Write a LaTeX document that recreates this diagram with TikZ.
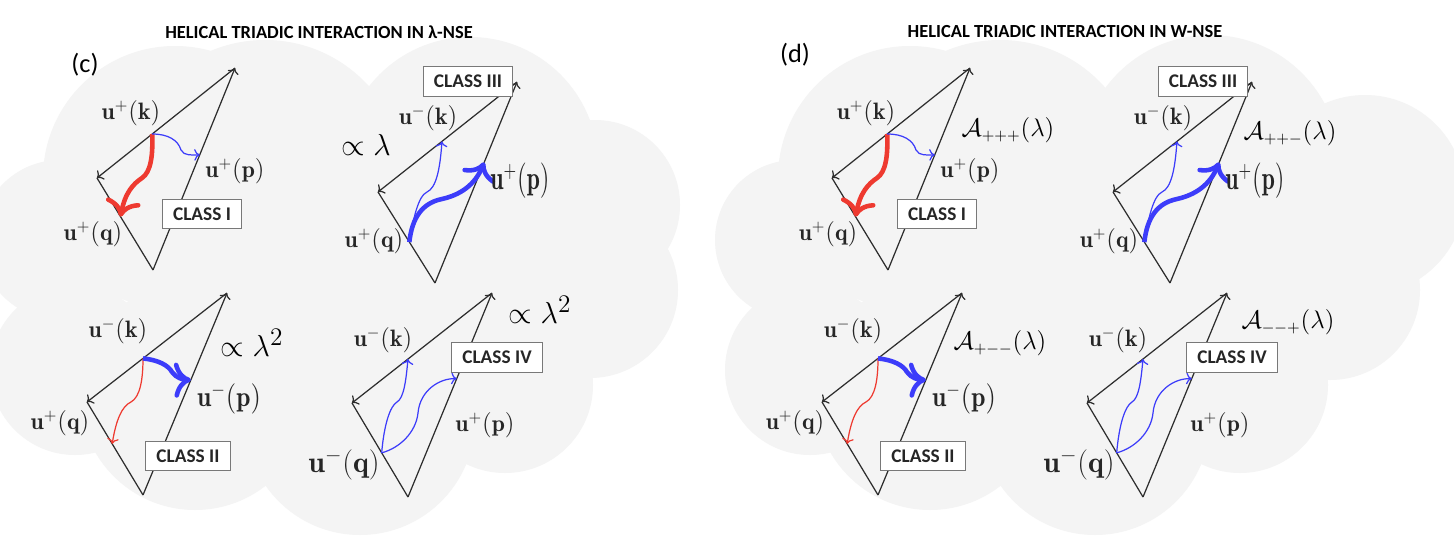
\documentclass[tikz,border=0pt]{standalone}
\usepackage{amsmath,amssymb}
\usepackage{fontspec}
\usepackage{tikz}
\usetikzlibrary{arrows.meta,calc}
\newfontfamily\calibrilike{Carlito}
\definecolor{CloudGray}{RGB}{244,244,244}
\definecolor{EdgeGray}{RGB}{45,45,45}
\definecolor{BoxGray}{RGB}{120,120,120}
\definecolor{HelBlue}{RGB}{60,60,250}
\definecolor{HelRed}{RGB}{238,58,48}

\begin{document}
\begin{tikzpicture}[x=0.2mm,y=-0.2mm,>=To,
  edge/.style={draw=EdgeGray,line width=0.7pt},
  classbox/.style={draw=BoxGray,fill=white,line width=0.6pt,text=black!85,
    font=\calibrilike\bfseries\fontsize{11}{13}\selectfont,inner xsep=6pt,minimum height=17pt},
  lab/.style={text=black!85,font=\fontsize{13.5}{16}\selectfont,inner sep=0pt},
  prop/.style={text=black,font=\fontsize{17.5}{20}\selectfont,inner sep=0pt},
  amp/.style={text=black,font=\fontsize{13.5}{16}\selectfont,inner sep=0pt},
  title/.style={font=\calibrilike\bfseries\fontsize{10.5}{12}\selectfont,inner sep=0pt},
  tag/.style={font=\calibrilike\fontsize{15}{17}\selectfont,inner sep=0pt},
  thinb/.style={->,HelBlue,line width=0.7pt},
  thickb/.style={-{To[scale=1.3]},HelBlue,line width=2.6pt},
  thinr/.style={->,HelRed,line width=0.7pt},
  thickr/.style={-{To[scale=1.3]},HelRed,line width=2.6pt}]
  \useasboundingbox (0,0) rectangle (1454,552);
  \fill[white] (0,0) rectangle (1454,552);

  % cloud backgrounds
  \foreach \cx/\cy/\r in {175/178/132,265/180/140,470/165/128,595/205/85,590/290/88,
      505/385/88,360/420/115,195/395/115,75/370/85,60/240/80,350/300/150,430/280/140,
      910/178/132,1000/180/140,1210/165/130,1365/195/100,1330/290/90,
      1240/385/88,1095/420/115,930/395/115,810/370/85,795/240/80,1085/300/150,1165/280/140}
    \fill[CloudGray] (\cx,\cy) circle (\r);

  \node[title] (titC) at (319,32) {HELICAL TRIADIC INTERACTION IN λ-NSE};
  \node[title] (titD) at (1065,32) {HELICAL TRIADIC INTERACTION IN W-NSE};
  \node[tag] (tagC) at (85,65) {(c)};
  \node[tag] (tagD) at (795,55) {(d)};

  \foreach \dx/\pn in {0/c,735/d}{
  \begin{scope}[shift={(\dx,0)}]
    % class I
    \coordinate (TI\pn) at (235,68);
    \coordinate (LI\pn) at (97,178);
    \coordinate (BI\pn) at (153,270);
    \draw[edge,->] (BI\pn) -- (TI\pn);
    \draw[edge,->] (TI\pn) -- (LI\pn);
    \draw[edge] (LI\pn) -- (BI\pn);
    \coordinate (kI\pn) at ($(TI\pn)!0.6!(LI\pn)$);
    \coordinate (qI\pn) at ($(LI\pn)!0.42!(BI\pn)$);
    \coordinate (pI\pn) at ($(BI\pn)!0.57!(TI\pn)$);
    \draw[thickr] (kI\pn) .. controls (153,155) and (151,172) .. (142,178)
      .. controls (133,184) and (125,193) .. (qI\pn);
    \draw[thinb] (kI\pn) .. controls (168,134) and (178,140) .. (181,150)
      .. controls (184,156) and (192,155) .. (pI\pn);
    \node[classbox] (boxI\pn) at (202,214) {CLASS I};
    \node[lab] (ukI\pn) at (131,113) {$\mathbf{u}^+(\mathbf{k})$};
    \node[lab] (upI\pn) at (235,171) {$\mathbf{u}^+(\mathbf{p})$};
    \node[lab] (uqI\pn) at (93,234) {$\mathbf{u}^+(\mathbf{q})$};

    % class III
    \coordinate (TIII\pn) at (517,82);
    \coordinate (LIII\pn) at (378,192);
    \coordinate (BIII\pn) at (435,283);
    \draw[edge,->] (BIII\pn) -- (TIII\pn);
    \draw[edge,->] (TIII\pn) -- (LIII\pn);
    \draw[edge] (LIII\pn) -- (BIII\pn);
    \coordinate (qIII\pn) at ($(LIII\pn)!0.55!(BIII\pn)$);
    \coordinate (kIII\pn) at ($(LIII\pn)!0.46!(TIII\pn)$);
    \coordinate (pIII\pn) at ($(BIII\pn)!0.6!(TIII\pn)$);
    \draw[thinb] (qIII\pn) .. controls (413,220) and (418,196) .. (427,192)
      .. controls (436,188) and (440,170) .. (kIII\pn);
    \draw[thickb] (qIII\pn) .. controls (412,218) and (422,203) .. (442,199)
      .. controls (460,195) and (475,185) .. (pIII\pn);
    \node[classbox] (boxIII\pn) at (468,81.5) {CLASS III};
    \node[lab] (ukIII\pn) at (428,118) {$\mathbf{u}^-(\mathbf{k})$};
    \node[lab] (upIII\pn) at (520,181) {\scalebox{1}[1.4]{$\mathbf{u}^+(\mathbf{p})$}};
    \node[lab] (uqIII\pn) at (374,241) {$\mathbf{u}^+(\mathbf{q})$};

    % class II
    \coordinate (TII\pn) at (227,293);
    \coordinate (LII\pn) at (87,402);
    \coordinate (BII\pn) at (143,495);
    \draw[edge,->] (BII\pn) -- (TII\pn);
    \draw[edge,->] (TII\pn) -- (LII\pn);
    \draw[edge] (LII\pn) -- (BII\pn);
    \coordinate (kII\pn) at ($(TII\pn)!0.6!(LII\pn)$);
    \coordinate (pII\pn) at ($(BII\pn)!0.57!(TII\pn)$);
    \coordinate (qII\pn) at ($(LII\pn)!0.45!(BII\pn)$);
    \draw[thinr] (kII\pn) .. controls (143,380) and (140,397) .. (131,402)
      .. controls (122,406) and (116,420) .. (qII\pn);
    \draw[thickb] (kII\pn) .. controls (158,360) and (168,365) .. (172,372)
      .. controls (176,378) and (184,380) .. (pII\pn);
    \node[classbox] (boxII\pn) at (188,456) {CLASS II};
    \node[lab] (ukII\pn) at (118,331) {$\mathbf{u}^-(\mathbf{k})$};
    \node[lab] (upII\pn) at (229,399) {\scalebox{1.08}[1.2]{$\mathbf{u}^-(\mathbf{p})$}};
    \node[lab] (uqII\pn) at (60,423) {$\mathbf{u}^+(\mathbf{q})$};

    % class IV
    \coordinate (TIV\pn) at (492,293);
    \coordinate (LIV\pn) at (352,403);
    \coordinate (BIV\pn) at (408,497);
    \draw[edge,->] (BIV\pn) -- (TIV\pn);
    \draw[edge,->] (TIV\pn) -- (LIV\pn);
    \draw[edge] (LIV\pn) -- (BIV\pn);
    \coordinate (qIV\pn) at ($(LIV\pn)!0.53!(BIV\pn)$);
    \coordinate (kIV\pn) at ($(LIV\pn)!0.4!(TIV\pn)$);
    \coordinate (pIV\pn) at ($(BIV\pn)!0.58!(TIV\pn)$);
    \draw[thinb] (qIV\pn) .. controls (384,425) and (390,406) .. (397,402)
      .. controls (404,398) and (406,380) .. (kIV\pn);
    \draw[thinb] (qIV\pn) .. controls (400,448) and (416,432) .. (418,413)
      .. controls (420,390) and (440,378) .. (pIV\pn);
    \node[classbox] (boxIV\pn) at (497,357.5) {CLASS IV};
    \node[lab] (ukIV\pn) at (383,340) {$\mathbf{u}^-(\mathbf{k})$};
    \node[lab] (upIV\pn) at (485,425) {$\mathbf{u}^+(\mathbf{p})$};
    \node[lab,font=\fontsize{17}{20}\selectfont] (uqIV\pn) at (344,465) {$\mathbf{u}^-(\mathbf{q})$};
  \end{scope}}

  % scaling in lambda-NSE
  \node[prop] (lamIII) at (366,145) {$\propto \lambda$};
  \node[prop,font=\fontsize{19}{22}\selectfont] (lamII) at (252,343) {$\propto \lambda^2$};
  \node[prop,font=\fontsize{19}{22}\selectfont] (lamIV) at (540,310) {$\propto \lambda^2$};
  % amplitudes in W-NSE
  \node[amp] (ampI) at (1008,130) {$\mathcal{A}_{+++}(\lambda)$};
  \node[amp] (ampIII) at (1290,133) {$\mathcal{A}_{++-}(\lambda)$};
  \node[amp] (ampII) at (1000,343) {$\mathcal{A}_{+--}(\lambda)$};
  \node[amp] (ampIV) at (1288,322) {$\mathcal{A}_{--+}(\lambda)$};
\end{tikzpicture}
\end{document}
